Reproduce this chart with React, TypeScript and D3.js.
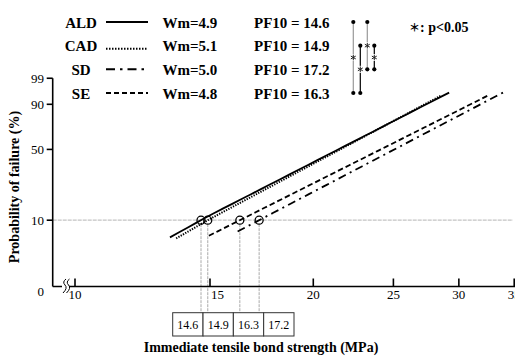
import React from 'react';
import * as d3 from 'd3';

// ---- data ----
const groups = ['ALD', 'CAD', 'SD', 'SE'];
const wm = [4.9, 5.1, 5.0, 4.8];
const pf10 = [14.6, 14.9, 17.2, 16.3];
const lineStart = [13.3, 13.55, 16.2, 14.95];
const lineEnd = [29.2, 28.5, 34.1, 32.7];
const xTicks = [15, 20, 25, 30, 35];
const breakTick = 10;
const yTicks = [10, 50, 90, 99];
const comparisons: [string, string][] = [['ALD', 'SE'], ['CAD', 'SE'], ['ALD', 'SD'], ['CAD', 'SD']];
const refP = 10;

const weib = (p: number) => Math.log(-Math.log(1 - p / 100));

const W = 515, H = 356;
const serif = '"Liberation Serif", "Times New Roman", serif';

export default function App() {
  const x = d3.scaleLog().domain([breakTick, 15, 35]).range([75, 210, 514.2]);
  const y = d3.scaleLinear().domain([weib(10), weib(90)]).range([220.2, 104.3]);
  const axisY = 286.5;
  const axisX = 52.7;
  const rowY = d3.scalePoint<string>().domain(groups).range([22, 93]);
  const compX = d3.scalePoint<string>().domain(comparisons.map(c => c.join('-'))).range([353.3, 374.3]);
  const sorted = groups.map((g, i) => ({ g, v: pf10[i] })).sort((a, b) => a.v - b.v);
  const band = d3.scaleBand<string>().domain(sorted.map(d => d.v.toFixed(1))).range([172.7, 294]);
  const boxTop = 312.7, boxBot = 336;
  const star = d3.symbol().type(d3.symbolAsterisk).size(22)() || '';

  const dash: Record<string, string> = { ALD: '', CAD: '1.3,1.3', SD: '8,4.5,2,4.5', SE: '5.5,3' };
  const legDash: Record<string, string> = { ALD: '', CAD: '1.5,1.5', SD: '9,5,2.5,5', SE: '5,3' };

  const line = d3.line<[number, number]>().x(d => x(d[0])).y(d => y(d[1]));
  const y10 = y(weib(refP));
  const yTop = y(weib(99));

  return (
    <svg width={W} height={H} style={{ position: 'absolute', left: 0, top: 0, background: '#fff' }} fontFamily={serif}>
      {/* 10% reference line */}
      <line x1={axisX} x2={513} y1={y10} y2={y10} stroke="#c4c4c4" strokeWidth={1.3} strokeDasharray="4,1" />
      {/* vertical grey drop lines */}
      {groups.map((g, i) => (
        <line key={'v' + g} x1={x(pf10[i])} x2={x(pf10[i])} y1={y10 + 4} y2={boxTop} stroke="#aaa" strokeWidth={1} strokeDasharray="3,1" />
      ))}
      {/* axes */}
      <line x1={axisX} x2={axisX} y1={yTop} y2={axisY} stroke="#000" strokeWidth={1.6} />
      <line x1={axisX} x2={W} y1={axisY} y2={axisY} stroke="#000" strokeWidth={1.6} />
      {yTicks.map(t => (
        <g key={'yt' + t}>
          <line x1={axisX - 6} x2={axisX} y1={y(weib(t))} y2={y(weib(t))} stroke="#000" strokeWidth={1.6} />
          <text x={44} y={y(weib(t)) + 4.5} fontSize={13} textAnchor="end">{t}</text>
        </g>
      ))}
      <text x={44} y={296} fontSize={13} textAnchor="end">0</text>
      {[breakTick, ...xTicks].map(t => (
        <g key={'xt' + t}>
          <line x1={x(t)} x2={x(t)} y1={axisY - 8} y2={axisY} stroke="#000" strokeWidth={1.6} />
          <text x={t === 15 ? x(t) + 1 : x(t)} y={299} fontSize={13} textAnchor={t === 15 ? 'start' : 'middle'}>{t}</text>
        </g>
      ))}
      {/* axis break */}
      <rect x={62} y={axisY - 2} width={7} height={4} fill="#fff" />
      {[0, 3.5].map(o => (
        <path key={'br' + o} d={`M${66 + o},${279} q-4,3 -1,6 q3,3 -2,8`} fill="none" stroke="#000" strokeWidth={1} />
      ))}
      {/* Weibull lines */}
      {groups.map((g, i) => {
        const pts: [number, number][] = d3.range(0, 31).map(k => {
          const s = lineStart[i] * Math.pow(lineEnd[i] / lineStart[i], k / 30);
          return [s, weib(refP) + wm[i] * (Math.log(s) - Math.log(pf10[i]))];
        });
        return <path key={'l' + g} d={line(pts) || ''} fill="none" stroke="#000" strokeWidth={g === 'CAD' ? 2 : 1.8} strokeDasharray={dash[g]} />;
      })}
      {groups.map((g, i) => (
        <circle key={'c' + g} cx={x(pf10[i])} cy={y10} r={4} fill="none" stroke="#000" strokeWidth={1.3} />
      ))}
      {/* PF10 boxes */}
      {sorted.map(d => {
        const k = d.v.toFixed(1);
        return (
          <g key={'b' + k}>
            <rect x={band(k)} y={boxTop} width={band.bandwidth()} height={boxBot - boxTop} fill="#fff" stroke="#333" strokeWidth={1} />
            <text x={(band(k) as number) + band.bandwidth() / 2} y={329} fontSize={12} textAnchor="middle">{k}</text>
          </g>
        );
      })}
      {/* axis titles */}
      <text x={261} y={352} fontSize={14} fontWeight="bold" textAnchor="middle">Immediate tensile bond strength (MPa)</text>
      <text transform="translate(19,187) rotate(-90)" fontSize={14} fontWeight="bold" textAnchor="middle">Probability of failure (%)</text>
      {/* legend */}
      {groups.map((g, i) => {
        const cy = rowY(g) as number;
        return (
          <g key={'lg' + g}>
            <text x={81} y={cy + 5.5} fontSize={15} fontWeight="bold" textAnchor="middle">{g}</text>
            <line x1={106} x2={148} y1={g === 'CAD' ? cy + 3 : cy} y2={g === 'CAD' ? cy + 3 : cy} stroke="#000" strokeWidth={2} strokeDasharray={legDash[g]} />
            <text x={162.5} y={cy + 5.5} fontSize={15} fontWeight="bold">{`Wm=${wm[i].toFixed(1)}`}</text>
            <text x={254} y={cy + 5.5} fontSize={15} fontWeight="bold">{`PF10 = ${pf10[i].toFixed(1)}`}</text>
          </g>
        );
      })}
      {/* significance brackets */}
      {comparisons.map(c => {
        const key = c.join('-');
        const cx = compX(key) as number;
        const y1 = rowY(c[0]) as number, y2 = rowY(c[1]) as number;
        const col = c[0] === 'ALD' ? '#999' : '#000';
        const my = (y1 + y2) / 2;
        return (
          <g key={'cmp' + key}>
            <line x1={cx} x2={cx} y1={y1} y2={y2} stroke={col} strokeWidth={1.2} />
            <circle cx={cx} cy={y1} r={2.1} fill="#000" />
            <circle cx={cx} cy={y2} r={2.1} fill="#000" />
            <rect x={cx - 3.2} y={my - 3.5} width={6.4} height={7} fill="#fff" />
            <path d={star} transform={`translate(${cx},${my})`} fill="none" stroke="#222" strokeWidth={1} />
          </g>
        );
      })}
      <text x={409} y={32} fontSize={14} fontWeight="bold">
        <tspan fontFamily='"Noto Sans CJK JP"' fontSize={11}>＊</tspan>
        <tspan>: p&lt;0.05</tspan>
      </text>
    </svg>
  );
}
